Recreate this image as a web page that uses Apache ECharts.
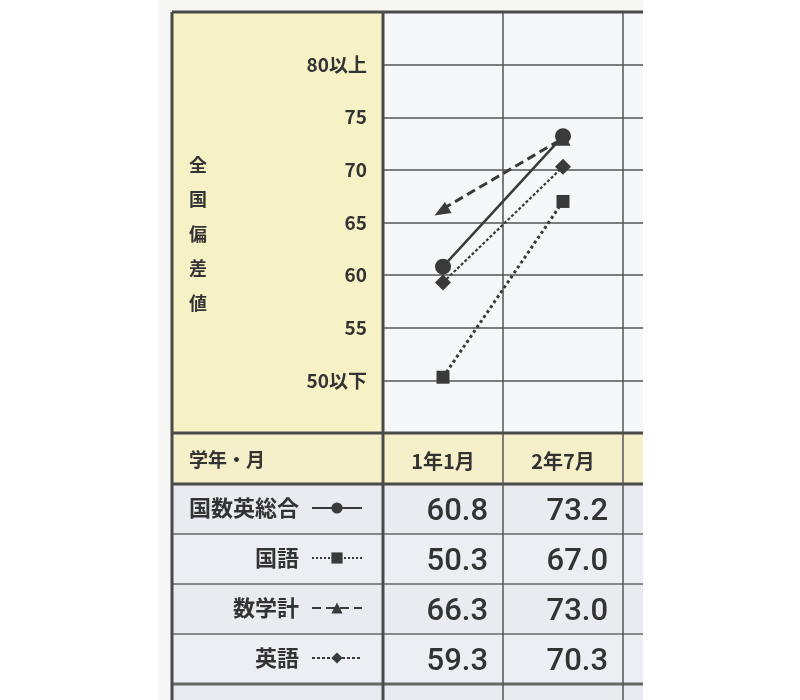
<!DOCTYPE html>
<html><head><meta charset="utf-8">
<script src="https://cdn.jsdelivr.net/npm/echarts@6/dist/echarts.min.js"></script>
<style>html,body{margin:0;padding:0;background:#fff}#c{width:800px;height:700px}</style>
</head><body><div id="c"></div>
<script>
const categories = ['1年1月', '2年7月', ''];
const seriesNames = ['国数英総合', '国語', '数学計', '英語'];
const sogo = [60.8, 73.2, null];
const kokugo = [50.3, 67.0, null];
const sugaku = [66.3, 73.0, null];
const eigo = [59.3, 70.3, null];
const yTicks = {80: '80以上', 75: '75', 70: '70', 65: '65', 60: '60', 55: '55', 50: '50以下'};
const yTitle = '全国偏差値';
const headerLabel = '学年・月';

const FONT = '"Noto Sans CJK JP", "Noto Sans", sans-serif';
const DARK = '#3a3a3a';
const chart = echarts.init(document.getElementById('c'), null, {renderer: 'canvas'});

function lineSeries(name, data, lineType, width, symbol, size, z) {
  return {
    name, type: 'line', data, symbol, symbolSize: size, symbolKeepAspect: true,
    lineStyle: {color: DARK, width, type: lineType},
    itemStyle: {color: DARK},
    z, animation: false
  };
}
// arrow-head shaped triangle (pointing down-left) used for the first 数学計 point
const ARROW = 'path://M-8.6 5.1L7.4 2.6L1.2-7.7Z';
const sugakuData = sugaku.map((v, i) => i === 0 ? {value: v, symbol: ARROW, symbolSize: 17} : v);

const legends = seriesNames.map((n, i) => ({
  data: [n], orient: 'horizontal', align: 'right', right: 437, top: 497 + i * 50,
  padding: 0, itemWidth: 50, itemHeight: 14, selectedMode: false,
  textStyle: {color: '#333', fontSize: 22, fontWeight: 'bold', fontFamily: FONT, padding: [0, 8, 0, 0]}
}));

chart.setOption({
  animation: false,
  backgroundColor: '#ffffff',
  grid: {left: 383, top: 12, width: 360, height: 421, containLabel: false},
  legend: legends,
  xAxis: {
    type: 'category', data: categories, boundaryGap: true,
    axisLine: {show: false}, axisTick: {show: false},
    splitLine: {show: true, lineStyle: {color: '#555', width: 1.5}},
    axisLabel: {margin: 18, color: '#333', fontSize: 20, fontWeight: 'bold', fontFamily: FONT, interval: 0}
  },
  yAxis: {
    type: 'value', min: 45, max: 85, interval: 5,
    axisLine: {show: false}, axisTick: {show: false},
    splitLine: {show: true, lineStyle: {color: '#555', width: 1.5}},
    axisLabel: {margin: 16, color: '#333', fontSize: 19, fontWeight: 'bold', fontFamily: FONT,
      formatter: v => yTicks[v] || ''}
  },
  series: [
    lineSeries(seriesNames[0], sogo, 'solid', 2.5, 'circle', 16, 8),
    lineSeries(seriesNames[1], kokugo, 'dotted', 3, 'rect', 13, 5),
    lineSeries(seriesNames[2], sugakuData, [9, 5], 3, 'triangle', 15, 5),
    lineSeries(seriesNames[3], eigo, [3, 2], 2.2, 'diamond', 16, 6)
  ]
});

// table / panel decorations
const L = 172, T = 12, R = 643, B = 700;
const chartBottom = 433, headerBottom = 484, rowH = 50;
const colX = categories.map((c, i) => chart.convertToPixel({xAxisIndex: 0}, i));
const colW = colX[1] - colX[0];
const panelRight = colX[0] - colW / 2;
const g = [];
g.push({type: 'rect', shape: {x: 158, y: 0, width: R - 158, height: 700}, style: {fill: '#f6f6f4'}, z: -20});
g.push({type: 'rect', shape: {x: L, y: T, width: panelRight - L, height: chartBottom - T}, style: {fill: '#f6f2c6'}, z: -10});
g.push({type: 'rect', shape: {x: panelRight, y: T, width: R - panelRight, height: chartBottom - T}, style: {fill: '#f6f7f9'}, z: -10});
g.push({type: 'rect', shape: {x: L, y: chartBottom, width: R - L, height: headerBottom - chartBottom}, style: {fill: '#f5f0c9'}, z: -10});
for (let i = 0; i < 5; i++) {
  g.push({type: 'rect', shape: {x: L, y: headerBottom + i * rowH, width: R - L, height: rowH}, style: {fill: i % 2 ? '#eceef3' : '#e9ebf1'}, z: -10});
}
for (let i = 1; i < 5; i++) {
  const y = headerBottom + i * rowH;
  g.push({type: 'line', shape: {x1: L, y1: y, x2: R, y2: y}, style: {stroke: '#666', lineWidth: i === 4 ? 3 : 1.5}, z: 10});
}
[[L, T, R, T], [L, T, L, B], [panelRight, T, panelRight, B], [L, chartBottom, R, chartBottom], [L, headerBottom, R, headerBottom]]
  .forEach(s => g.push({type: 'line', shape: {x1: s[0], y1: s[1], x2: s[2], y2: s[3]}, style: {stroke: '#4a4a4a', lineWidth: 3}, z: 10}));
for (let i = 0; i < categories.length; i++) {
  const x = colX[i] + colW / 2;
  g.push({type: 'line', shape: {x1: x, y1: chartBottom, x2: x, y2: B}, style: {stroke: '#555', lineWidth: 1.5}, z: 10});
}
g.push({type: 'text', x: 198, y: 234, z: 10, style: {text: yTitle.split('').join('\n'), fill: '#333', font: 'bold 18px ' + FONT, lineHeight: 34.5, align: 'center', verticalAlign: 'middle'}});
g.push({type: 'text', x: 189, y: 460, z: 10, style: {text: headerLabel, fill: '#333', font: 'bold 19px ' + FONT, align: 'left', verticalAlign: 'middle'}});
[sogo, kokugo, sugaku, eigo].forEach((arr, r) => {
  arr.forEach((v, c) => {
    if (v == null) return;
    g.push({type: 'text', x: colX[c] + colW / 2 - 15, y: headerBottom + r * rowH + 28, z: 10,
      style: {text: v.toFixed(1), fill: '#333', font: '500 31px Roboto, "Liberation Sans", sans-serif', align: 'right', verticalAlign: 'middle'}});
  });
});
g.push({type: 'rect', shape: {x: R, y: 0, width: 800 - R, height: 700}, style: {fill: '#ffffff'}, z: 100});
g.push({type: 'rect', shape: {x: 0, y: 0, width: 158, height: 700}, style: {fill: '#ffffff'}, z: 100});
chart.setOption({graphic: g});
</script></body></html>
